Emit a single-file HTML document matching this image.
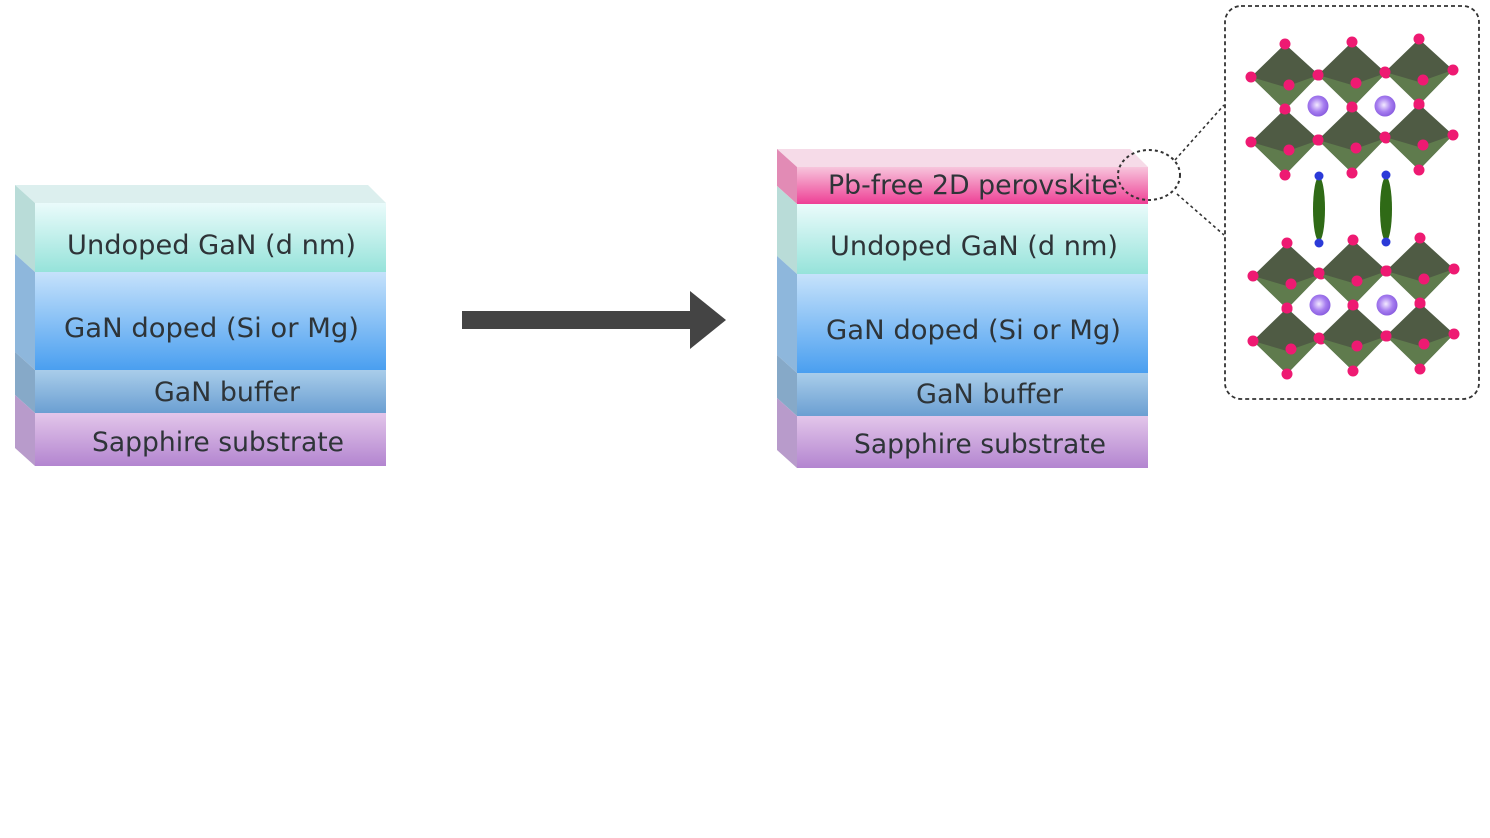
<!DOCTYPE html>
<html><head><meta charset="utf-8">
<style>
html,body{margin:0;padding:0;background:#fff;}
svg{display:block;}
text{font-family:"DejaVu Sans","Liberation Sans",sans-serif;font-size:27px;fill:#2e3438;}
</style></head>
<body>
<svg width="1490" height="838" viewBox="0 0 1490 838" xmlns="http://www.w3.org/2000/svg">
<defs>
<linearGradient id="gU" x1="0" y1="0" x2="0" y2="1"><stop offset="0" stop-color="#eafbfb"/><stop offset="1" stop-color="#96e3da"/></linearGradient>
<linearGradient id="gD" x1="0" y1="0" x2="0" y2="1"><stop offset="0" stop-color="#c6e2fb"/><stop offset="1" stop-color="#4a9ff0"/></linearGradient>
<linearGradient id="gB" x1="0" y1="0" x2="0" y2="1"><stop offset="0" stop-color="#a9cdea"/><stop offset="1" stop-color="#6b9fd2"/></linearGradient>
<linearGradient id="gS" x1="0" y1="0" x2="0" y2="1"><stop offset="0" stop-color="#e3c6ea"/><stop offset="1" stop-color="#b385d0"/></linearGradient>
<linearGradient id="gP" x1="0" y1="0" x2="0" y2="1"><stop offset="0" stop-color="#f7c5dc"/><stop offset="1" stop-color="#ee3f95"/></linearGradient>
<radialGradient id="gA" cx="0.45" cy="0.45" r="0.55"><stop offset="0" stop-color="#f3eaff"/><stop offset="0.6" stop-color="#a77ef0"/><stop offset="1" stop-color="#8a5ee0"/></radialGradient>
<g id="oct">
<polygon points="0,-33 34,-2 0,33 -34,0" fill="#4f5b44"/>
<polygon points="-34,0 0,10 34,-2 0,33" fill="#5f7b4d"/>
<circle cx="0" cy="-33" r="5.5" fill="#ee1a72"/>
<circle cx="34" cy="-2" r="5.5" fill="#ee1a72"/>
<circle cx="0" cy="33" r="5.5" fill="#ee1a72"/>
<circle cx="-34" cy="0" r="5.5" fill="#ee1a72"/>
<circle cx="4" cy="8" r="5.5" fill="#ee1a72"/>
</g>
</defs>

<!-- LEFT STACK -->
<polygon points="15,185 368,185 386,203 35,203" fill="#dcefee"/>
<polygon points="15,185 35,203 35,272 15,254" fill="#b9dcd8"/>
<polygon points="15,254 35,272 35,370 15,352" fill="#8eb7dc"/>
<polygon points="15,352 35,370 35,413 15,395" fill="#86a9c8"/>
<polygon points="15,395 35,413 35,466 15,448" fill="#b89bcb"/>
<rect x="35" y="203" width="351" height="69" fill="url(#gU)"/>
<rect x="35" y="272" width="351" height="98" fill="url(#gD)"/>
<rect x="35" y="370" width="351" height="43" fill="url(#gB)"/>
<rect x="35" y="413" width="351" height="53" fill="url(#gS)"/>
<text x="67" y="254" textLength="289" lengthAdjust="spacingAndGlyphs">Undoped GaN (d nm)</text>
<text x="64" y="337" textLength="295" lengthAdjust="spacingAndGlyphs">GaN doped (Si or Mg)</text>
<text x="154" y="401" textLength="146" lengthAdjust="spacingAndGlyphs">GaN buffer</text>
<text x="92" y="451" textLength="252" lengthAdjust="spacingAndGlyphs">Sapphire substrate</text>

<!-- ARROW -->
<rect x="462" y="311" width="230" height="18" fill="#444"/>
<polygon points="690,291 726,320 690,349" fill="#444"/>

<!-- RIGHT STACK -->
<polygon points="777,149 1130,149 1148,167 797,167" fill="#f6dbe8"/>
<polygon points="777,149 797,167 797,204 777,186" fill="#e28bb5"/>
<polygon points="777,186 797,204 797,274 777,256" fill="#b9dcd8"/>
<polygon points="777,256 797,274 797,373 777,355" fill="#8eb7dc"/>
<polygon points="777,355 797,373 797,416 777,398" fill="#86a9c8"/>
<polygon points="777,398 797,416 797,468 777,450" fill="#b89bcb"/>
<rect x="797" y="167" width="351" height="37" fill="url(#gP)"/>
<rect x="797" y="204" width="351" height="70" fill="url(#gU)"/>
<rect x="797" y="274" width="351" height="99" fill="url(#gD)"/>
<rect x="797" y="373" width="351" height="43" fill="url(#gB)"/>
<rect x="797" y="416" width="351" height="52" fill="url(#gS)"/>
<text x="828" y="194" textLength="290" lengthAdjust="spacingAndGlyphs">Pb-free 2D perovskite</text>
<text x="830" y="255" textLength="288" lengthAdjust="spacingAndGlyphs">Undoped GaN (d nm)</text>
<text x="826" y="339" textLength="295" lengthAdjust="spacingAndGlyphs">GaN doped (Si or Mg)</text>
<text x="916" y="403" textLength="147" lengthAdjust="spacingAndGlyphs">GaN buffer</text>
<text x="854" y="453" textLength="252" lengthAdjust="spacingAndGlyphs">Sapphire substrate</text>

<!-- zoom callout -->
<ellipse cx="1149" cy="175" rx="31" ry="25" fill="none" stroke="#333" stroke-width="2" stroke-dasharray="3,3"/>
<line x1="1175" y1="160" x2="1224" y2="105" stroke="#333" stroke-width="1.6" stroke-dasharray="3,3"/>
<line x1="1177" y1="194" x2="1224" y2="235" stroke="#333" stroke-width="1.6" stroke-dasharray="3,3"/>
<rect x="1225" y="6" width="254" height="393" rx="16" ry="16" fill="#fff" stroke="#333" stroke-width="1.8" stroke-dasharray="4,3"/>

<!-- upper layer -->
<use href="#oct" x="1285" y="77"/><use href="#oct" x="1352" y="75"/><use href="#oct" x="1419" y="72"/>
<use href="#oct" x="1285" y="142"/><use href="#oct" x="1352" y="140"/><use href="#oct" x="1419" y="137"/>
<circle cx="1318" cy="106" r="10.5" fill="url(#gA)"/>
<circle cx="1385" cy="106" r="10.5" fill="url(#gA)"/>
<!-- organic spacers -->
<ellipse cx="1319" cy="209" rx="6" ry="32" fill="#2f6a16"/>
<ellipse cx="1386" cy="209" rx="6" ry="32" fill="#2f6a16"/>
<circle cx="1319" cy="176" r="4.5" fill="#2b3ad8"/><circle cx="1319" cy="243" r="4.5" fill="#2b3ad8"/>
<circle cx="1386" cy="175" r="4.5" fill="#2b3ad8"/><circle cx="1386" cy="242" r="4.5" fill="#2b3ad8"/>
<!-- lower layer -->
<use href="#oct" x="1287" y="276"/><use href="#oct" x="1353" y="273"/><use href="#oct" x="1420" y="271"/>
<use href="#oct" x="1287" y="341"/><use href="#oct" x="1353" y="338"/><use href="#oct" x="1420" y="336"/>
<circle cx="1320" cy="305" r="10.5" fill="url(#gA)"/>
<circle cx="1387" cy="305" r="10.5" fill="url(#gA)"/>
</svg>
</body></html>
